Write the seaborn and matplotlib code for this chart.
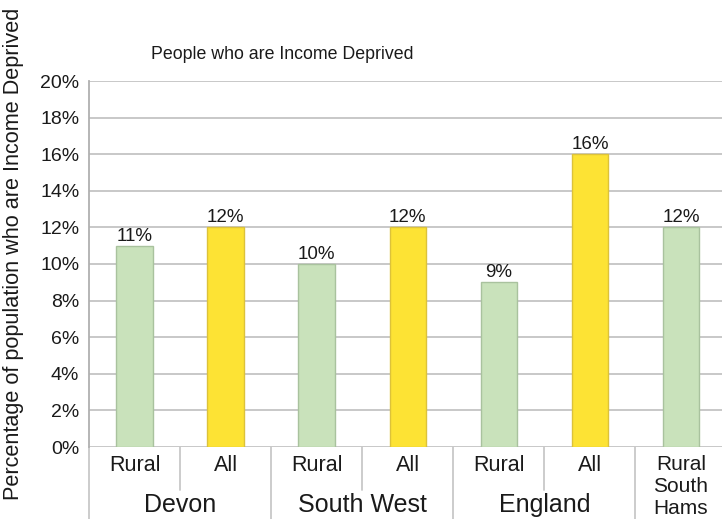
import matplotlib
matplotlib.use("Agg")
import matplotlib.pyplot as plt
import matplotlib.transforms as mtransforms
import seaborn as sns
import pandas as pd

# Data
bar_ids = ["Devon Rural", "Devon All", "South West Rural", "South West All",
           "England Rural", "England All", "Rural South Hams"]
sub_labels = ["Rural", "All", "Rural", "All", "Rural", "All", "Rural\nSouth\nHams"]
kinds = ["Rural", "All", "Rural", "All", "Rural", "All", "Rural"]
values = [11, 12, 10, 12, 9, 16, 12]
groups = ["Devon", "South West", "England"]
group_centers = [0.5, 2.5, 4.5]
y_ticks = [0, 2, 4, 6, 8, 10, 12, 14, 16, 18, 20]

df = pd.DataFrame({"bar": bar_ids, "value": values, "kind": kinds})

sns.set_style("white")
plt.rcParams["font.family"] = ["Liberation Sans", "DejaVu Sans"]

fig = plt.figure(figsize=(7.22, 5.19), dpi=100)
ax = fig.add_axes([89 / 722, 1 - 447 / 519, 1 - 89 / 722, (447 - 81) / 519])

palette = {"Rural": "#c9e2bb", "All": "#fde334"}
edges = {"Rural": "#a9c29e", "All": "#dcc23a"}
sns.barplot(data=df, x="bar", y="value", hue="kind", palette=palette,
            order=bar_ids, width=0.4, dodge=False, legend=False, ax=ax,
            saturation=1, zorder=3)
for patch, k in zip(sorted(ax.patches, key=lambda p: p.get_x()), kinds):
    patch.set_edgecolor(edges[k])
    patch.set_linewidth(1.0)

# Value labels above bars
for i, v in enumerate(values):
    ax.text(i, v + 0.05, f"{v}%", ha="center", va="bottom", fontsize=13.5,
            color="#1a1a1a", zorder=4)

ax.set_xlim(-0.5, 6.45)
ax.set_ylim(0, 20)
ax.set_yticks(y_ticks)
ax.set_yticklabels([f"{t}%" for t in y_ticks], fontsize=14, color="#1a1a1a")
ax.tick_params(axis="y", length=4, width=1, color="#a0a0a0", pad=3)
ax.set_xticks([])
ax.set_xlabel("")
ax.set_ylabel("")

ax.yaxis.grid(True, color="#c4c4c4", linewidth=1.3, zorder=0)
ax.set_axisbelow(True)
for side in ["top", "right", "bottom"]:
    ax.spines[side].set_visible(False)
ax.spines["left"].set_color("#b0b0b0")
ax.spines["left"].set_linewidth(1.3)

ax.set_title("People who are Income Deprived", fontsize=12.8, color="#1a1a1a",
             pad=16, x=(282 - 89) / (722 - 89))

fig.text(14 / 722, 1 - 254 / 519,
         "Percentage of population who are Income Deprived",
         rotation=90, ha="center", va="center", fontsize=15.6, color="#1a1a1a")

# Category axis: separators and two-level labels
trans = mtransforms.blended_transform_factory(ax.transData, ax.transAxes)
sep_color = "#c8c8c8"
for x in [0.5, 2.5, 4.5]:
    ax.plot([x, x], [0, -0.117], transform=trans, color=sep_color, lw=1.3,
            clip_on=False)
for x in [-0.5, 1.5, 3.5, 5.5]:
    ax.plot([x, x], [0, -0.2], transform=trans, color=sep_color, lw=1.3,
            clip_on=False)

for i, lab in enumerate(sub_labels):
    if "\n" in lab:
        ax.text(i, -0.022, lab, transform=trans, ha="center", va="top",
                fontsize=15, linespacing=1.2, color="#1a1a1a")
    else:
        ax.text(i, -0.05, lab, transform=trans, ha="center", va="center",
                fontsize=15.5, color="#1a1a1a")
for c, g in zip(group_centers, groups):
    ax.text(c, -0.158, g, transform=trans, ha="center", va="center",
            fontsize=18, color="#1a1a1a")

fig.savefig("out.png", dpi=100)
